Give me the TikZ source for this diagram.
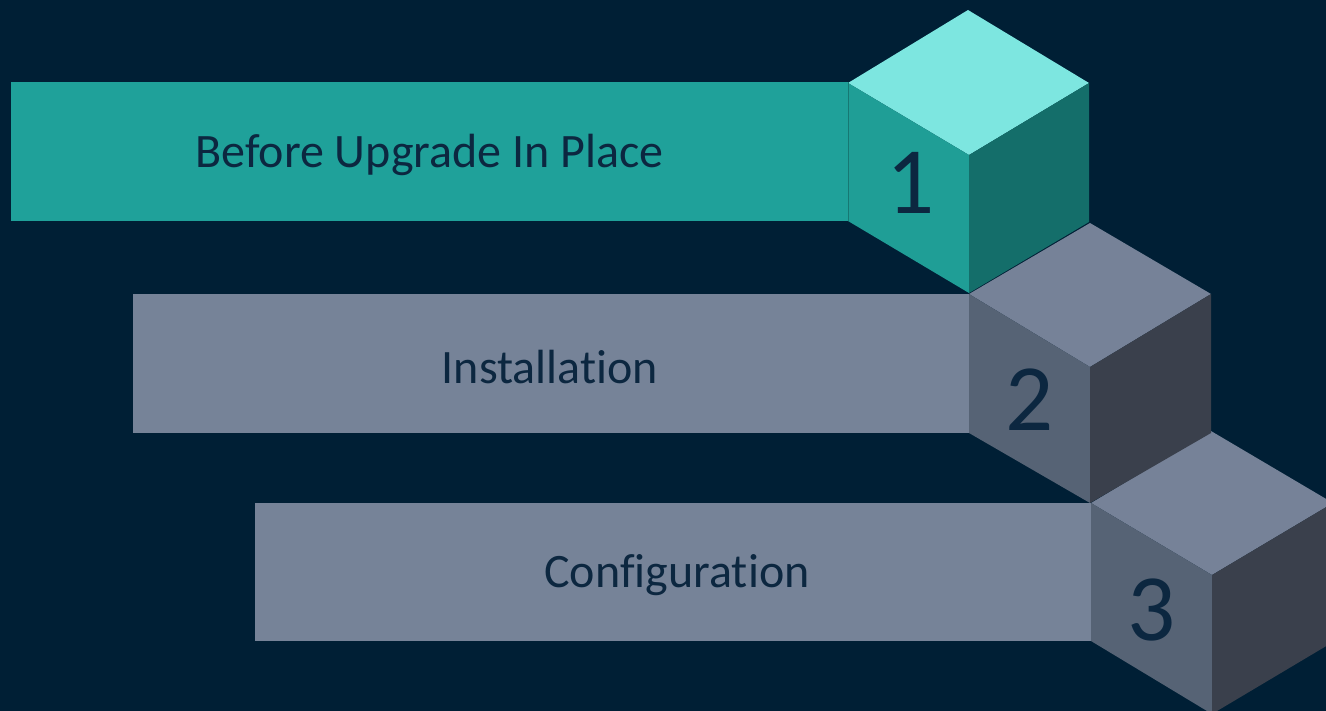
\documentclass[tikz,border=0pt]{standalone}
\usepackage{fontspec}
\setmainfont{Carlito}[Ligatures={NoCommon}]
\definecolor{bgc}{HTML}{001F35}
\definecolor{tealbar}{HTML}{1FA19A}
\definecolor{tealtop}{HTML}{7DE6E0}
\definecolor{tealleft}{HTML}{1F9E96}
\definecolor{tealright}{HTML}{146E6A}
\definecolor{graybar}{HTML}{768398}
\definecolor{graytop}{HTML}{768298}
\definecolor{grayleft}{HTML}{566375}
\definecolor{grayright}{HTML}{3A404C}
\definecolor{txt}{HTML}{0C2740}
\tikzset{
  barlabel/.style={text=txt,font=\fontsize{48}{50}\selectfont,inner sep=0pt},
  numlabel/.style={text=txt,font=\fontsize{95}{100}\selectfont,inner sep=0pt},
}
\begin{document}
\begin{tikzpicture}[x=1pt,y=-1pt]
\useasboundingbox (0,0) rectangle (1326,711);
\clip (0,0) rectangle (1326,711);
\fill[bgc] (0,0) rectangle (1326,711);
% bars
\fill[tealbar] (11,82) rectangle (848,221);
\fill[graybar] (133,294) rectangle (969,433);
\fill[graybar] (255,503) rectangle (1091,641);
% cube 3
\fill[graytop] (1091,503) -- (1211,431) -- (1333,503) -- (1212,575) -- cycle;
\fill[grayleft] (1091,503) -- (1212,575) -- (1212,714) -- (1091,641) -- cycle;
\fill[grayright] (1212,575) -- (1333,503) -- (1333,642) -- (1212,714) -- cycle;
% cube 2
\fill[graytop] (969,294) -- (1090,223) -- (1211,294) -- (1090,367) -- cycle;
\fill[grayleft] (969,294) -- (1090,367) -- (1090,503) -- (969,433) -- cycle;
\fill[grayright] (1090,367) -- (1211,294) -- (1211,433) -- (1090,503) -- cycle;
% cube 1
\fill[tealtop] (848,83) -- (968,10) -- (1089,83) -- (969,155) -- cycle;
\fill[tealleft] (848,83) -- (969,155) -- (969,293) -- (848,221) -- cycle;
\fill[tealright] (969,155) -- (1089,83) -- (1089,222) -- (969,293) -- cycle;
\draw[tealright!80!tealleft,line width=0.6pt] (848,82) -- (848,221);
% labels
\node[barlabel] (t1) at (429.5,155) {Before Upgrade In Place};
\node[barlabel] (t2) at (550,367) {Installation};
\node[barlabel] (t3) at (677,575) {Configuration};
\node[numlabel] (n1) at (911,183) {1};
\node[numlabel] (n2) at (1030,400) {2};
\node[numlabel] (n3) at (1152,610) {3};
\end{tikzpicture}
\end{document}
